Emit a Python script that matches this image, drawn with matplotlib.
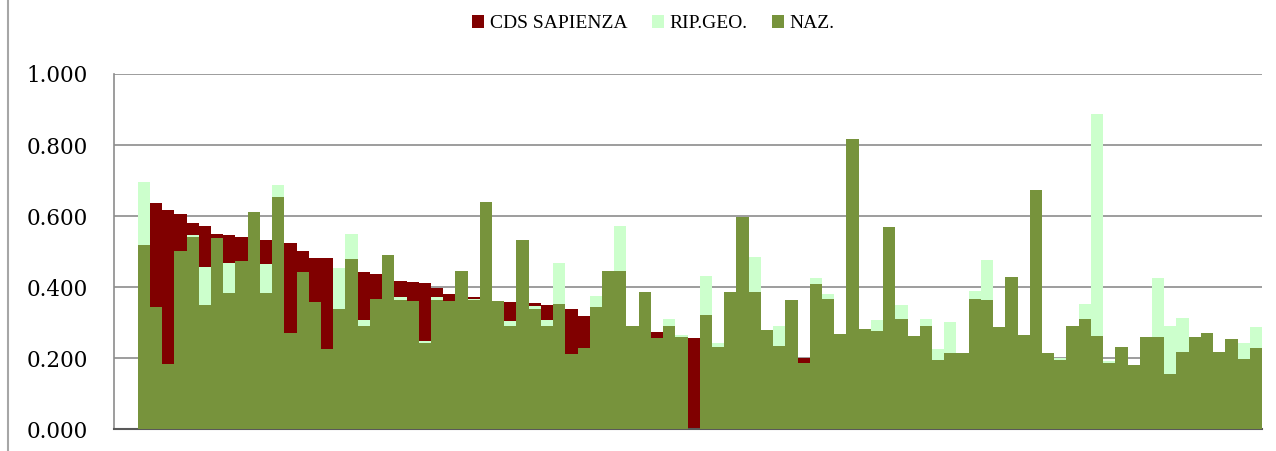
import numpy as np
import matplotlib
matplotlib.use('Agg')
import matplotlib.pyplot as plt
from matplotlib.lines import Line2D

# values (0 where a series is hidden behind another)
cds = [0.000, 0.637, 0.618, 0.607, 0.581, 0.572, 0.550, 0.547, 0.541, 0.000,
       0.534, 0.000, 0.524, 0.501, 0.483, 0.481, 0.000, 0.000, 0.442, 0.438,
       0.000, 0.418, 0.415, 0.413, 0.398, 0.382, 0.000, 0.373, 0.000, 0.000,
       0.359, 0.000, 0.357, 0.349, 0.000, 0.339, 0.318, 0.000, 0.000, 0.000,
       0.000, 0.000, 0.273, 0.000, 0.000, 0.256, 0.000, 0.000, 0.000, 0.000,
       0.000, 0.000, 0.000, 0.000, 0.202, 0.000, 0.000, 0.000, 0.000, 0.000,
       0.000, 0.000, 0.000, 0.000, 0.000, 0.000, 0.000, 0.000, 0.000, 0.000,
       0.000, 0.000, 0.000, 0.000, 0.000, 0.000, 0.000, 0.000, 0.000, 0.000,
       0.000, 0.000, 0.000, 0.000, 0.000, 0.000, 0.000, 0.000, 0.000, 0.000,
       0.000, 0.000]
rip = [0.696, 0.000, 0.000, 0.000, 0.547, 0.457, 0.000, 0.467, 0.000, 0.000,
       0.465, 0.688, 0.000, 0.000, 0.000, 0.000, 0.454, 0.551, 0.307, 0.000,
       0.000, 0.373, 0.000, 0.250, 0.373, 0.000, 0.000, 0.366, 0.000, 0.000,
       0.305, 0.000, 0.346, 0.307, 0.469, 0.000, 0.000, 0.375, 0.000, 0.571,
       0.000, 0.000, 0.000, 0.312, 0.266, 0.000, 0.433, 0.244, 0.000, 0.000,
       0.485, 0.000, 0.292, 0.000, 0.000, 0.427, 0.380, 0.000, 0.000, 0.000,
       0.307, 0.000, 0.350, 0.000, 0.310, 0.227, 0.303, 0.000, 0.389, 0.477,
       0.000, 0.000, 0.000, 0.000, 0.000, 0.201, 0.000, 0.352, 0.887, 0.193,
       0.000, 0.000, 0.000, 0.427, 0.292, 0.313, 0.000, 0.000, 0.000, 0.000,
       0.244, 0.288]
naz = [0.520, 0.345, 0.183, 0.501, 0.541, 0.350, 0.538, 0.384, 0.474, 0.612,
       0.383, 0.653, 0.271, 0.444, 0.359, 0.227, 0.339, 0.479, 0.292, 0.367,
       0.491, 0.364, 0.361, 0.242, 0.364, 0.361, 0.447, 0.363, 0.640, 0.362,
       0.291, 0.532, 0.339, 0.292, 0.353, 0.212, 0.230, 0.344, 0.447, 0.447,
       0.290, 0.388, 0.258, 0.292, 0.259, 0.000, 0.321, 0.231, 0.388, 0.599,
       0.387, 0.279, 0.234, 0.364, 0.188, 0.410, 0.367, 0.269, 0.818, 0.284,
       0.276, 0.569, 0.311, 0.262, 0.292, 0.195, 0.214, 0.214, 0.368, 0.365,
       0.289, 0.428, 0.266, 0.674, 0.214, 0.196, 0.292, 0.312, 0.264, 0.187,
       0.231, 0.181, 0.261, 0.259, 0.156, 0.217, 0.260, 0.271, 0.218, 0.254,
       0.199, 0.230]

x = np.arange(len(naz))

fig = plt.figure(figsize=(12.76, 4.51), dpi=100)
ax = fig.add_axes([0.0893, 0.0477, 0.8997, 0.7883])

# overlapping bars, drawn in the same order as the original
ax.bar(x, cds, width=1.0, align='edge', color='#800000', label='CDS SAPIENZA', zorder=2)
ax.bar(x, rip, width=1.0, align='edge', color='#CCFFCC', label='RIP.GEO.', zorder=3)
ax.bar(x, naz, width=1.0, align='edge', color='#77933C', label='NAZ.', zorder=4)

ax.set_xlim(-1.94, len(naz))
ax.set_ylim(0, 1.0)
ticks = np.arange(0, 1.01, 0.2)
ax.set_yticks(ticks)
ax.set_yticklabels(['%.3f' % v for v in ticks], family='DejaVu Serif', fontsize=15.5)
ax.set_xticks([])
ax.tick_params(axis='y', length=0, pad=19)
ax.yaxis.grid(True, color='#8c8c8c', linewidth=1.2, zorder=0)
ax.set_axisbelow(True)

for s in ['top', 'right']:
    ax.spines[s].set_visible(False)
ax.spines['left'].set_color('#8c8c8c')
ax.spines['left'].set_linewidth(1.2)
ax.spines['bottom'].set_color('#595959')
ax.spines['bottom'].set_linewidth(1.5)

fig.legend(loc='center', bbox_to_anchor=(0.512, 0.947), ncol=3, frameon=False,
           prop={'family': 'Liberation Serif', 'size': 14},
           handlelength=0.62, handleheight=0.62, handletextpad=0.28, columnspacing=1.25)

# outer chart border on the left
fig.add_artist(Line2D([0.0063, 0.0063], [0, 1], color='#a6a6a6', linewidth=1.5,
                      transform=fig.transFigure))

fig.savefig('out.png', dpi=100)
